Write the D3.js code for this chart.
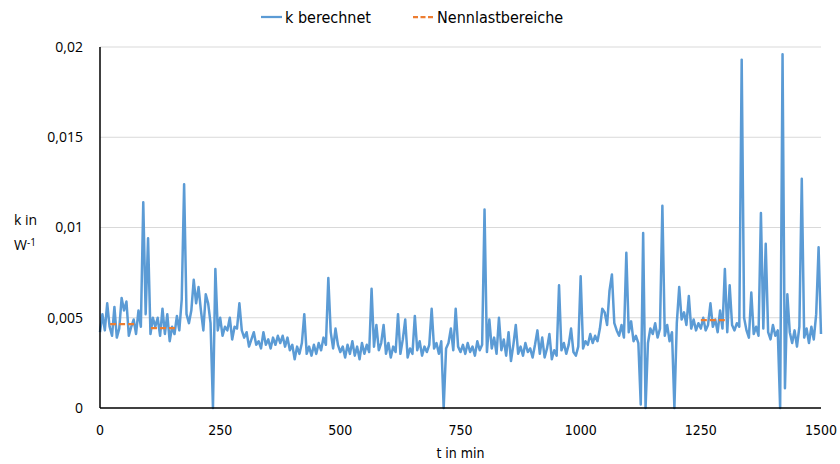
<!doctype html>
<meta charset="utf-8">
<style>
    body { margin: 0; background: #fff; }
    .narrow { font-family: 'Liberation Sans Narrow', 'DejaVu Sans Condensed', sans-serif; font-size: 14px; fill: #000; }
    .wide { font-family: 'Open Sans', sans-serif; font-size: 14px; fill: #000; }
    .legend { font-size: 16px; }
</style>
<body>
<script src="https://d3js.org/d3.v7.min.js"></script>
<script>
    // k berechnet, one value every 5 min from 0 to 1500, in 10^-3 W^-1
    const stepMin = 5;
    const kValues = [
        4.2, 5.2, 4.3, 5.8, 4.5, 4.0, 5.6, 3.9, 4.4, 6.1,
        5.4, 5.9, 4.0, 4.5, 4.9, 4.1, 5.4, 4.5, 11.4, 5.2,
        9.4, 4.1, 5.0, 4.5, 5.0, 4.0, 5.5, 4.1, 5.2, 3.7,
        4.5, 4.1, 5.1, 4.3, 6.0, 12.4, 5.2, 4.7, 5.4, 7.1,
        5.8, 6.7, 5.4, 4.3, 6.3, 5.8, 4.7, 0.0, 7.7, 4.3,
        5.0, 4.0, 4.5, 4.3, 5.0, 3.8, 4.5, 4.4, 5.8, 4.3,
        3.9, 4.2, 3.4, 3.8, 4.2, 3.5, 3.7, 3.3, 4.2, 3.5,
        3.8, 3.3, 3.9, 3.5, 4.0, 3.6, 4.0, 3.4, 3.9, 3.2,
        3.5, 2.7, 3.4, 3.0, 3.6, 5.2, 3.0, 3.4, 2.9, 3.5,
        3.0, 3.6, 3.2, 3.9, 3.5, 7.2, 4.2, 3.3, 4.4, 3.5,
        3.1, 3.4, 2.8, 3.5, 3.0, 3.7, 2.9, 3.4, 2.7, 3.6,
        3.0, 3.5, 3.1, 6.6, 3.4, 4.6, 3.2, 3.6, 4.6, 3.0,
        3.6, 2.8, 3.4, 3.1, 5.2, 3.0, 3.8, 4.9, 2.8, 3.3,
        3.0, 5.1, 3.2, 3.7, 2.9, 3.4, 3.1, 3.5, 5.5, 3.3,
        3.6, 3.0, 3.7, 0.0, 3.3, 3.6, 4.4, 3.2, 5.5, 3.4,
        3.1, 3.5, 3.0, 3.6, 3.1, 3.4, 2.9, 3.7, 3.2, 3.5,
        11.0, 3.1, 4.9, 3.3, 3.9, 3.0, 5.0, 3.2, 3.8, 2.9,
        4.2, 2.6, 3.5, 4.6, 3.0, 3.4, 2.9, 3.6, 3.1, 3.3,
        2.8, 3.5, 4.3, 3.0, 3.9, 2.8, 3.3, 4.1, 2.7, 3.2,
        2.9, 6.8, 3.2, 3.6, 3.0, 3.5, 4.4, 3.1, 2.9, 3.4,
        7.3, 3.3, 3.7, 3.5, 4.1, 3.6, 4.0, 3.7, 4.4, 5.5,
        5.3, 4.6, 6.5, 7.4, 4.7, 4.3, 4.0, 4.6, 3.9, 8.6,
        4.2, 4.8, 3.7, 4.0, 3.6, 0.2, 9.7, 0.0, 3.6, 4.4,
        4.1, 4.7, 3.9, 4.4, 11.2, 4.0, 4.6, 3.7, 4.2, 0.0,
        4.7, 6.7, 4.9, 5.3, 4.6, 6.2, 4.4, 4.9, 4.3, 4.7,
        4.4, 5.0, 4.3, 4.6, 5.8, 4.5, 4.9, 4.2, 5.4, 4.4,
        7.7, 4.2, 6.8, 4.6, 4.3, 4.7, 4.5, 19.3, 5.0, 4.3,
        3.9, 6.4, 4.1, 4.5, 4.0, 10.8, 4.4, 9.1, 4.2, 3.8,
        4.6, 4.0, 4.3, 0.0, 19.6, 1.1, 6.3, 4.2, 3.6, 4.3,
        3.4, 4.5, 12.7, 3.9, 4.4, 3.6, 4.5, 3.8, 5.2, 8.9,
        4.1
    ];
    // Nennlastbereiche: start, end (min) and k level (10^-3 W^-1)
    const nennStart = [21, 106, 1250];
    const nennEnd = [75, 162, 1306];
    const nennK = [4.65, 4.43, 4.87];

    const xTicks = [0, 250, 500, 750, 1000, 1250, 1500];
    const yTicks = [0, 0.005, 0.01, 0.015, 0.02];
    const seriesNames = ['k berechnet', 'Nennlastbereiche'];
    const colors = ['#5B9BD5', '#ED7D31'];

    const margin = {top: 47, right: 19, bottom: 56, left: 100};
    const W = 840, H = 464;
    const width = W - margin.left - margin.right;
    const height = H - margin.top - margin.bottom;

    const x = d3.scaleLinear().domain([0, 1500]).range([0, width]);
    const y = d3.scaleLinear().domain([0, 0.02]).range([height, 0]);
    const fmt = v => String(+v.toFixed(3)).replace('.', ',');

    const svg = d3.select('body').append('svg')
        .attr('width', W).attr('height', H);
    const g = svg.append('g')
        .attr('transform', `translate(${margin.left}, ${margin.top})`);

    // gridlines
    g.append('g').selectAll('line')
        .data(yTicks.filter(d => d > 0))
        .enter().append('line')
        .attr('x1', 0).attr('x2', width)
        .attr('y1', d => y(d)).attr('y2', d => y(d))
        .attr('stroke', '#d9d9d9').attr('stroke-width', 1);

    // y labels
    g.append('g').selectAll('text')
        .data(yTicks)
        .enter().append('text')
        .attr('class', 'wide')
        .attr('x', -17).attr('y', d => y(d))
        .attr('dy', '0.35em')
        .attr('text-anchor', 'end')
        .text(fmt);

    // x labels
    g.append('g').selectAll('text')
        .data(xTicks)
        .enter().append('text')
        .attr('class', 'narrow')
        .attr('x', d => x(d)).attr('y', height + 22)
        .attr('dy', '0.35em')
        .attr('text-anchor', 'middle')
        .text(d => d);

    // series
    const line = d3.line()
        .x((d, i) => x(i * stepMin))
        .y(d => y(d * 1e-3));
    g.append('path')
        .datum(kValues)
        .attr('fill', 'none')
        .attr('stroke', colors[0])
        .attr('stroke-width', 2.5)
        .attr('stroke-linejoin', 'round')
        .attr('d', line);

    g.append('g').selectAll('line')
        .data(nennK)
        .enter().append('line')
        .attr('x1', (d, i) => x(nennStart[i]))
        .attr('x2', (d, i) => x(nennEnd[i]))
        .attr('y1', d => y(d * 1e-3)).attr('y2', d => y(d * 1e-3))
        .attr('stroke', colors[1])
        .attr('stroke-width', 2.25)
        .attr('stroke-dasharray', '6,3');

    // axes lines
    g.append('line').attr('x1', 0).attr('x2', 0).attr('y1', 0).attr('y2', height)
        .attr('stroke', '#000').attr('stroke-width', 1.5);
    g.append('line').attr('x1', 0).attr('x2', width).attr('y1', height).attr('y2', height)
        .attr('stroke', '#000').attr('stroke-width', 1.5);

    // axis titles
    svg.append('text').attr('class', 'narrow')
        .attr('x', margin.left + width / 2).attr('y', 453)
        .attr('dy', '0.35em').attr('text-anchor', 'middle')
        .text('t in min');
    const yt = svg.append('text').attr('class', 'wide').attr('x', 14).attr('y', 220).attr('dy', '0.35em');
    yt.append('tspan').text('k in');
    const yt2 = svg.append('text').attr('class', 'wide').attr('x', 14).attr('y', 245).attr('dy', '0.35em');
    yt2.append('tspan').text('W');
    yt2.append('tspan').attr('dy', '-0.4em').attr('font-size', '10px').text('-1');

    // legend
    const legX = [261, 413];
    const leg = svg.append('g').selectAll('g')
        .data(seriesNames)
        .enter().append('g')
        .attr('transform', (d, i) => `translate(${legX[i]}, 17)`);
    leg.append('line')
        .attr('x1', 0).attr('x2', 21)
        .attr('stroke', (d, i) => colors[i])
        .attr('stroke-width', 2.25)
        .attr('stroke-dasharray', (d, i) => i === 1 ? '5,2.5' : null);
    leg.append('text').attr('class', 'narrow legend')
        .attr('x', 24).attr('dy', '0.35em')
        .text(d => d);
</script>
